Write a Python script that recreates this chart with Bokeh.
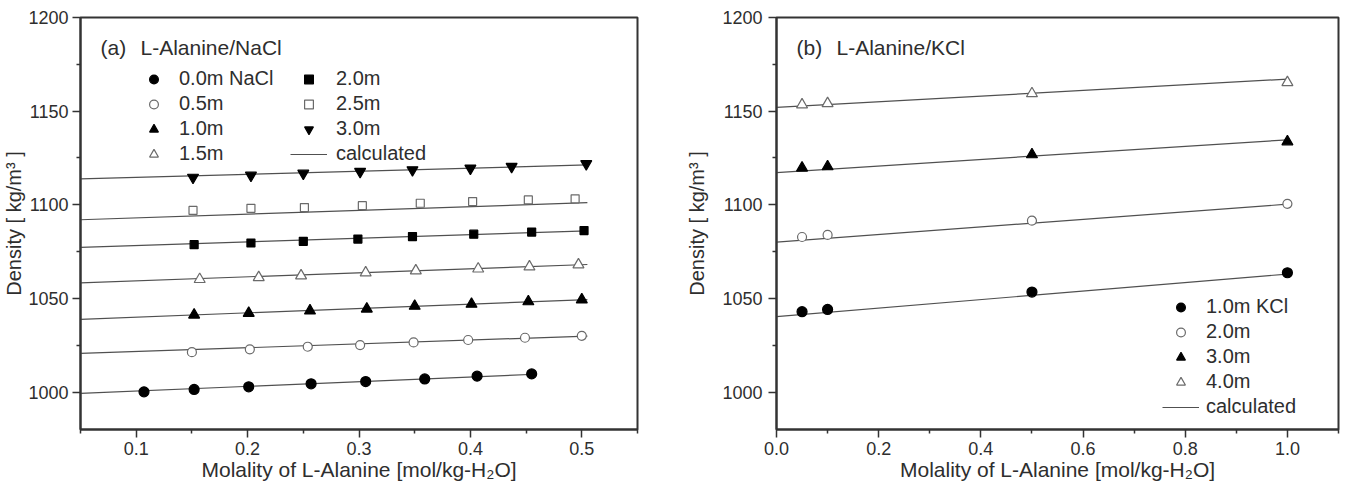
from bokeh.plotting import figure
from bokeh.models import Legend, LegendItem, Label, FixedTicker, PrintfTickFormatter, Range1d
from bokeh.layouts import row
from bokeh.embed import file_html
from bokeh.resources import INLINE

FONT = "Liberation Sans"

# ---------------- data: (a) L-Alanine / NaCl ----------------
nacl_labels = ["0.0m NaCl", "0.5m", "1.0m", "1.5m", "2.0m", "2.5m", "3.0m"]
x_00 = [0.107, 0.152, 0.201, 0.257, 0.306, 0.359, 0.406, 0.455]
d_00 = [1000.1, 1001.4, 1002.8, 1004.4, 1005.6, 1007.0, 1008.5, 1009.7]
x_05 = [0.150, 0.202, 0.254, 0.301, 0.349, 0.398, 0.449, 0.500]
d_05 = [1021.3, 1022.8, 1024.2, 1025.1, 1026.5, 1027.8, 1029.0, 1030.0]
x_10 = [0.152, 0.201, 0.256, 0.307, 0.350, 0.401, 0.452, 0.500]
d_10 = [1041.2, 1042.1, 1043.4, 1044.4, 1045.9, 1047.0, 1048.3, 1049.3]
x_15 = [0.157, 0.210, 0.248, 0.306, 0.351, 0.407, 0.453, 0.497]
d_15 = [1060.2, 1061.2, 1062.1, 1063.7, 1064.8, 1065.8, 1066.9, 1068.0]
x_20 = [0.152, 0.203, 0.250, 0.299, 0.348, 0.403, 0.455, 0.502]
d_20 = [1078.7, 1079.6, 1080.5, 1081.7, 1083.0, 1084.3, 1085.4, 1086.2]
x_25 = [0.151, 0.203, 0.251, 0.303, 0.355, 0.402, 0.452, 0.494]
d_25 = [1097.0, 1098.1, 1098.5, 1099.5, 1100.8, 1101.7, 1102.6, 1103.2]
x_30 = [0.151, 0.203, 0.250, 0.301, 0.348, 0.400, 0.437, 0.504]
d_30 = [1114.6, 1115.7, 1116.8, 1117.7, 1118.6, 1119.5, 1120.4, 1121.9]

# calculated curves (start at x=0.05, end at given x)
nacl_calc_x0 = [0.05, 0.05, 0.05, 0.05, 0.05, 0.05, 0.05]
nacl_calc_x1 = [0.458, 0.505, 0.505, 0.505, 0.505, 0.505, 0.505]
nacl_calc_d0 = [999.3, 1020.6, 1038.8, 1058.3, 1077.3, 1092.0, 1113.8]
nacl_calc_d1 = [1009.5, 1029.9, 1049.4, 1068.1, 1086.1, 1101.1, 1121.3]

# ---------------- data: (b) L-Alanine / KCl ----------------
kcl_labels = ["1.0m KCl", "2.0m", "3.0m", "4.0m"]
x_kcl = [0.05, 0.10, 0.50, 1.00]
d_k1 = [1042.9, 1044.1, 1053.4, 1063.7]
d_k2 = [1082.8, 1083.9, 1091.5, 1100.5]
d_k3 = [1119.7, 1120.4, 1126.8, 1133.7]
d_k4 = [1153.4, 1154.1, 1159.4, 1165.3]
kcl_calc_x = [0.0, 1.0]
kcl_calc_d0 = [1040.3, 1080.1, 1117.2, 1152.0]
kcl_calc_d1 = [1063.0, 1100.3, 1134.7, 1167.1]

y_ticks = [1000, 1050, 1100, 1150, 1200]
y_minor = [975, 1025, 1075, 1125, 1175]
xa_ticks = [0.1, 0.2, 0.3, 0.4, 0.5]
xa_minor = [0.05, 0.15, 0.25, 0.35, 0.45, 0.55]
xb_ticks = [0.0, 0.2, 0.4, 0.6, 0.8, 1.0]
xb_minor = [0.1, 0.3, 0.5, 0.7, 0.9, 1.1]

X_LABEL = "Molality of L-Alanine [mol/kg-H\u2082O]"
Y_LABEL = "Density [ kg/m\u00b3 ]"

LINE_C = "#505050"
OPEN_C = "#6a6a6a"
TEXT_C = "#2e2e2e"

STYLES = [
    dict(marker="circle", size=10, fill_color="black", line_color="black"),
    dict(marker="circle", size=9, fill_color="white", line_color=OPEN_C),
    dict(marker="triangle", size=11, fill_color="black", line_color="black"),
    dict(marker="triangle", size=11, fill_color="white", line_color=OPEN_C),
    dict(marker="square", size=8, fill_color="black", line_color="black"),
    dict(marker="square", size=8, fill_color="white", line_color=OPEN_C),
    dict(marker="inverted_triangle", size=11, fill_color="black", line_color="black"),
]


def make_fig(width, left, right, xr, xt, xm):
    p = figure(width=width, height=483, x_range=Range1d(*xr), y_range=Range1d(980, 1200),
               output_backend="svg", toolbar_location=None,
               min_border_left=left, min_border_right=right,
               min_border_top=17, min_border_bottom=53)
    p.xgrid.visible = False
    p.ygrid.visible = False
    p.outline_line_color = "#333333"
    p.outline_line_width = 2
    p.outline_line_alpha = 1
    p.background_fill_color = "white"
    p.border_fill_color = "white"
    p.xaxis.ticker = FixedTicker(ticks=xt, minor_ticks=xm)
    p.yaxis.ticker = FixedTicker(ticks=y_ticks, minor_ticks=y_minor)
    p.xaxis.formatter = PrintfTickFormatter(format="%.1f")
    p.yaxis.formatter = PrintfTickFormatter(format="%d")
    for ax in (p.xaxis, p.yaxis):
        ax.axis_line_color = "#333333"
        ax.axis_line_width = 2
        ax.major_tick_line_color = "#333333"
        ax.minor_tick_line_color = "#333333"
        ax.major_tick_line_width = 1.5
        ax.minor_tick_line_width = 1.5
        ax.major_tick_out = 8
        ax.major_tick_in = 0
        ax.minor_tick_out = 4
        ax.minor_tick_in = 0
        ax.major_label_text_font = FONT
        ax.major_label_text_font_size = "18px"
        ax.major_label_text_color = TEXT_C
        ax.axis_label_text_font = FONT
        ax.axis_label_text_font_style = "normal"
        ax.axis_label_text_color = TEXT_C
    p.xaxis.axis_label = X_LABEL
    p.xaxis.axis_label_text_font_size = "21px"
    p.xaxis.axis_label_standoff = 0
    p.xaxis.major_label_standoff = 4
    p.yaxis.axis_label = Y_LABEL
    p.yaxis.axis_label_text_font_size = "20px"
    return p


def add_title(p, tag, txt, y):
    p.add_layout(Label(x=20, y=y, x_units="screen", y_units="screen", text=tag,
                       text_font=FONT, text_font_size="21px", text_color=TEXT_C,
                       text_baseline="middle"))
    p.add_layout(Label(x=60, y=y, x_units="screen", y_units="screen", text=txt,
                       text_font=FONT, text_font_size="21px", text_color=TEXT_C,
                       text_baseline="middle"))


def make_legend(items, x, y, standoff):
    lg = Legend(items=items, location=(x, y), padding=0, margin=0, spacing=2,
                glyph_width=37, glyph_height=22, label_height=22, label_standoff=standoff,
                label_text_font=FONT, label_text_font_size="20px", label_text_color=TEXT_C,
                border_line_alpha=0, background_fill_alpha=0)
    return lg


# ---------------- panel (a) ----------------
p1 = make_fig(680, 75, 43, (0.05, 0.55), xa_ticks, xa_minor)
p1.yaxis.axis_label_standoff = 0
p1.yaxis.major_label_standoff = 4

xs_a = [x_00, x_05, x_10, x_15, x_20, x_25, x_30]
ds_a = [d_00, d_05, d_10, d_15, d_20, d_25, d_30]
calc_a = None
for i in range(len(nacl_labels)):
    calc_a = p1.line([nacl_calc_x0[i], nacl_calc_x1[i]], [nacl_calc_d0[i], nacl_calc_d1[i]],
                     line_color=LINE_C, line_width=1.2)
rend_a = []
for i in range(len(nacl_labels)):
    rend_a.append(p1.scatter(xs_a[i], ds_a[i], line_width=1.2, **STYLES[i]))

leg_a1 = make_legend([LegendItem(label=nacl_labels[i], renderers=[rend_a[i]]) for i in range(4)],
                     55, 264, 7)
leg_a2 = make_legend([LegendItem(label=nacl_labels[i], renderers=[rend_a[i]]) for i in range(4, 7)]
                     + [LegendItem(label="calculated", renderers=[calc_a])], 210, 264, 9)
p1.add_layout(leg_a1)
p1.add_layout(leg_a2)
add_title(p1, "(a)", "L-Alanine/NaCl", 382)

# ---------------- panel (b) ----------------
p2 = make_fig(667, 96, 9, (0.0, 1.1), xb_ticks, xb_minor)
p2.yaxis.axis_label_standoff = 11
p2.yaxis.major_label_standoff = 6

ds_b = [d_k1, d_k2, d_k3, d_k4]
styles_b = [STYLES[0], STYLES[1], STYLES[2], STYLES[3]]
calc_b = None
for i in range(len(kcl_labels)):
    calc_b = p2.line(kcl_calc_x, [kcl_calc_d0[i], kcl_calc_d1[i]], line_color=LINE_C, line_width=1.2)
rend_b = []
for i in range(len(kcl_labels)):
    rend_b.append(p2.scatter(x_kcl, ds_b[i], line_width=1.2, **styles_b[i]))

leg_b = make_legend([LegendItem(label=kcl_labels[i], renderers=[rend_b[i]]) for i in range(4)]
                    + [LegendItem(label="calculated", renderers=[calc_b])], 386, 11, 7)
p2.add_layout(leg_b)
add_title(p2, "(b)", "L-Alanine/KCl", 382)

layout = row(p1, p2, spacing=0)
open("out.html", "w").write(file_html(layout, INLINE))
